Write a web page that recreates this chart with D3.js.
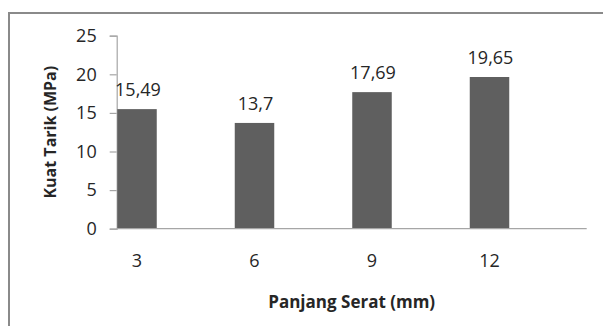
<!DOCTYPE html>
<html>
<head>
<meta charset="utf-8">
<script src="https://cdn.jsdelivr.net/npm/d3@7"></script>
<style>
  html, body { margin: 0; padding: 0; background: #fff; }
  svg { display: block; }
  text { font-family: "Open Sans", "DejaVu Sans", sans-serif; fill: #262626; }
</style>
</head>
<body>
<svg id="chart" width="603" height="326"></svg>
<script>
// Tensile strength by fibre length
const categories = ["3", "6", "9", "12"];
const values = [15.49, 13.7, 17.69, 19.65];
const valueLabels = ["15,49", "13,7", "17,69", "19,65"];
const yTicks = [0, 5, 10, 15, 20, 25];
const xTitle = "Panjang Serat (mm)";
const yTitle = "Kuat Tarik (MPa)";

const svg = d3.select("#chart");

// chart frame (open to the right and bottom edges)
svg.append("rect")
  .attr("x", 9).attr("y", 13)
  .attr("width", 620).attr("height", 340)
  .attr("fill", "none")
  .attr("stroke", "#8a8a8a")
  .attr("stroke-width", 2);

const plot = { left: 116.7, right: 586.7, top: 35.7, bottom: 228.7 };

const y = d3.scaleLinear().domain([0, 25]).range([plot.bottom, plot.top]);
// category centres spaced evenly along the axis
const x = d3.scaleLinear().domain([0, 3]).range([137, 489.5]);
const barW = 39.5;

// y axis
const yAxis = svg.append("g")
  .attr("transform", `translate(${plot.left},0)`)
  .call(d3.axisLeft(y).tickValues(yTicks).tickSize(7).tickPadding(13).tickFormat(d3.format("d")));
yAxis.select(".domain").attr("stroke", "#a6a6a6").attr("stroke-width", 1.2);
yAxis.selectAll(".tick line").attr("stroke", "#a6a6a6").attr("stroke-width", 1.2);
yAxis.selectAll(".tick text")
  .style("font-family", "'Open Sans', sans-serif")
  .style("font-size", "18px").attr("fill", "#262626");

// bars
svg.append("g").selectAll("rect")
  .data(values)
  .join("rect")
  .attr("x", (d, i) => x(i) - barW / 2)
  .attr("y", d => y(d))
  .attr("width", barW)
  .attr("height", d => y(0) - y(d))
  .attr("fill", "#5f5f5f");

// x axis line
svg.append("line")
  .attr("x1", plot.left).attr("x2", plot.right)
  .attr("y1", y(0)).attr("y2", y(0))
  .attr("stroke", "#a6a6a6").attr("stroke-width", 1.2);

// category labels
svg.append("g").selectAll("text")
  .data(categories)
  .join("text")
  .attr("x", (d, i) => x(i))
  .attr("y", 267)
  .attr("text-anchor", "middle")
  .style("font-size", "18px")
  .text(d => d);

// value labels
svg.append("g").selectAll("text")
  .data(values)
  .join("text")
  .attr("x", (d, i) => x(i) + 1)
  .attr("y", d => y(d) - 13)
  .attr("text-anchor", "middle")
  .style("font-size", "18px")
  .text((d, i) => valueLabels[i]);

// axis titles
svg.append("text")
  .attr("x", (plot.left + plot.right) / 2)
  .attr("y", 308)
  .attr("text-anchor", "middle")
  .style("font-size", "17px")
  .style("font-weight", "bold")
  .text(xTitle);

svg.append("text")
  .attr("transform", `translate(56,${(plot.top + plot.bottom) / 2}) rotate(-90)`)
  .attr("text-anchor", "middle")
  .style("font-size", "16px")
  .style("font-weight", "bold")
  .text(yTitle);
</script>
</body>
</html>
